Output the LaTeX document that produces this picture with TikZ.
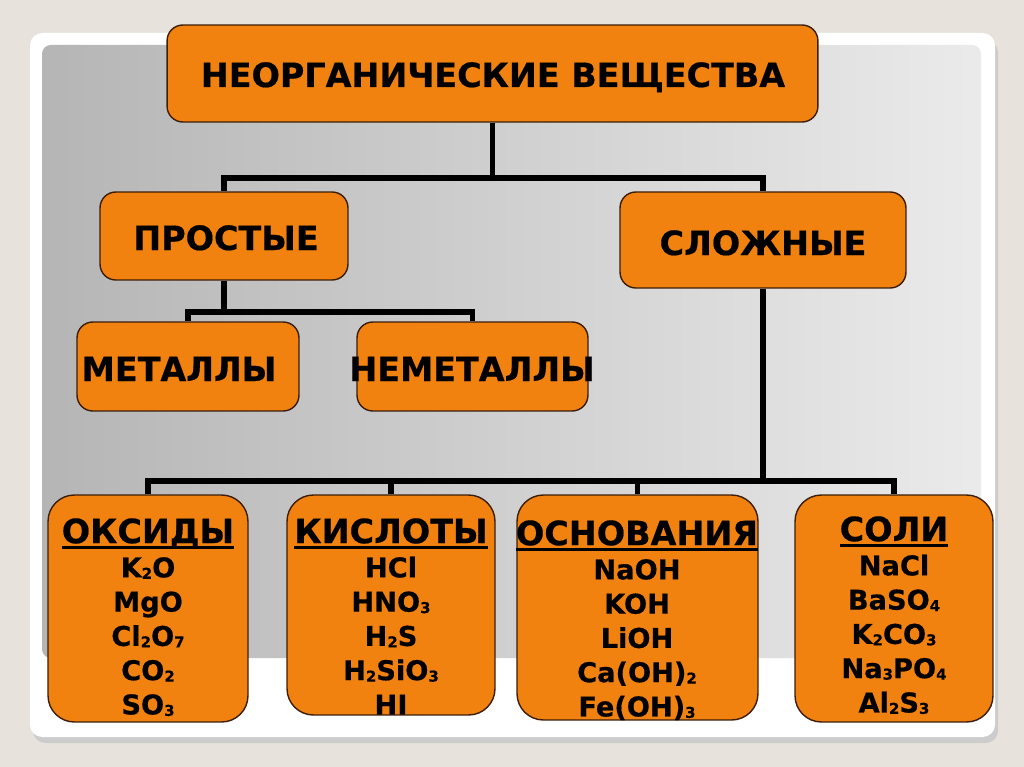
\documentclass[tikz,border=0pt]{standalone}
\usepackage{fontspec}
\setmainfont{DejaVu Sans}[BoldFeatures={FakeBold=0.5}]
\definecolor{pagebg}{RGB}{231,227,220}
\definecolor{boxfill}{RGB}{242,130,15}
\definecolor{boxline}{RGB}{60,30,8}
% small digits in formulas
\newcommand{\lo}[1]{{\fontsize{8.5pt}{8.5pt}\selectfont\raisebox{-0.8pt}{#1}}}
% underlined column heading
\newcommand{\hd}[1]{{\fontsize{19pt}{19.5pt}\selectfont\setbox0=\hbox{#1}\rlap{\rule[-3.2pt]{\wd0}{1.7pt}}\box0}}
\tikzset{
  box/.style={draw=boxline, fill=boxfill, line width=0.8pt, rounded corners=9pt, inner sep=0pt},
  bigbox/.style={box, rounded corners=15pt},
  head/.style={font=\bfseries\fontsize{19pt}{20pt}\selectfont, inner sep=0pt, anchor=base},
  list/.style={align=center, anchor=north, inner sep=0pt, font=\bfseries\fontsize{15.5pt}{19.5pt}\selectfont},
  conn/.style={line width=3.2pt, black}
}
\begin{document}
\begin{tikzpicture}[x=0.02cm, y=-0.02cm]
  \useasboundingbox (0,0) rectangle (1024,767);
  % slide
  \fill[pagebg] (0,0) rectangle (1024,767);
  \fill[gray!40, rounded corners=7pt] (33,40) rectangle (998,743);
  \fill[white, rounded corners=7pt] (30,33) rectangle (995,737);
  \shade[left color=gray!58, middle color=gray!5, right color=gray!16, rounded corners=5pt] (42,45) rectangle (981,658);

  % boxes
  \node[box, minimum width=13.02cm, minimum height=1.94cm] (top) at (492.5,73.5) {};
  \node[box, minimum width=4.96cm, minimum height=1.76cm] (prost) at (224,236) {};
  \node[box, minimum width=5.72cm, minimum height=1.92cm] (slozh) at (763,240) {};
  \node[box, minimum width=4.44cm, minimum height=1.78cm] (metal) at (188,366.5) {};
  \node[box, minimum width=4.62cm, minimum height=1.78cm] (nemetal) at (472.5,366.5) {};
  \node[bigbox, minimum width=4.0cm, minimum height=4.54cm] (oxid) at (148,608.5) {};
  \node[bigbox, minimum width=4.16cm, minimum height=4.4cm] (kisl) at (391,605) {};
  \node[bigbox, minimum width=4.82cm, minimum height=4.5cm] (osn) at (637.5,607.5) {};
  \node[bigbox, minimum width=3.96cm, minimum height=4.54cm] (soli) at (894,608.5) {};

  % texts
  \node[head] (toptxt) at (493,87) {НЕОРГАНИЧЕСКИЕ ВЕЩЕСТВА};
  \node[head] (prosttxt) at (226,250) {ПРОСТЫЕ};
  \node[head] (slozhtxt) at (763,255) {СЛОЖНЫЕ};
  \node[head] (metaltxt) at (179,381) {МЕТАЛЛЫ};
  \node[head] (nemetaltxt) at (472,381) {НЕМЕТАЛЛЫ};
  \node[list] (oxidtxt) at (148,518) {\hd{ОКСИДЫ}\\K\lo2O\\MgO\\Cl\lo2O\lo7\\CO\lo2\\SO\lo3};
  \node[list] (kisltxt) at (391,518) {\hd{КИСЛОТЫ}\\HCl\\HNO\lo3\\H\lo2S\\H\lo2SiO\lo3\\HI};
  \node[list] (osntxt) at (637,520) {\hd{ОСНОВАНИЯ}\\NaOH\\KOH\\LiOH\\Ca(OH)\lo2\\Fe(OH)\lo3};
  \node[list] (solitxt) at (894,516) {\hd{СОЛИ}\\NaCl\\BaSO\lo4\\K\lo2CO\lo3\\Na\lo3PO\lo4\\Al\lo2S\lo3};

  % connectors
  \coordinate (j1) at (492.5,178);
  \coordinate (j2) at (224,312);
  \coordinate (j3) at (763,481);
  \draw[conn] (top.south) -- (j1);
  \draw[conn] (prost.north) |- (j1) -| (slozh.north);
  \draw[conn] (prost.south) -- (j2);
  \draw[conn] (metal.north) |- (j2) -| (nemetal.north);
  \draw[conn] (slozh.south) -- (j3);
  \draw[conn] (oxid.north) |- (j3) -| (soli.north);
  \draw[conn] (kisl.north) -- (kisl.north |- j3);
  \draw[conn] (osn.north) -- (osn.north |- j3);
\end{tikzpicture}
\end{document}
